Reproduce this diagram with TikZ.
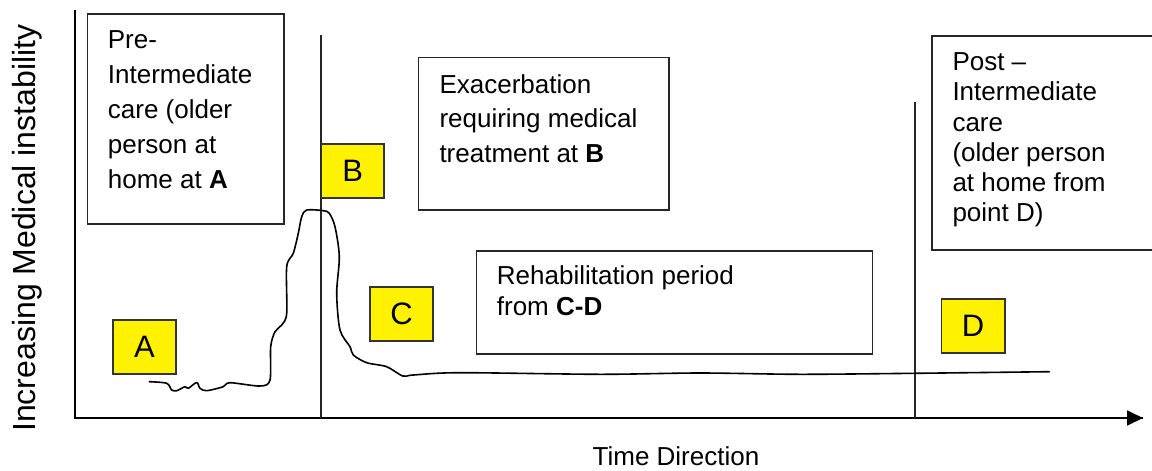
\documentclass[tikz,border=0pt]{standalone}
\usepackage{fontspec}
\setmainfont{Liberation Sans}
\usetikzlibrary{arrows.meta}
\begin{document}
\begin{tikzpicture}[x=1pt,y=-1pt,
  box/.style={draw=black!85, line width=1.5pt, inner sep=0pt, anchor=north west},
  ybox/.style={draw=black!80, fill=yellow, line width=1.5pt, anchor=north west, inner sep=0pt,
    minimum width=63pt, minimum height=54pt, font=\fontsize{31}{34}\selectfont},
  txt/.style={anchor=base west, inner sep=0pt},
  axis/.style={line width=1.8pt, black},
  vline/.style={line width=1.6pt, black!85},
  curve/.style={line width=1.6pt, black, line join=round, line cap=round}]
\useasboundingbox (0,0) rectangle (1152,471);
% axes
\coordinate (O) at (75,418);
\coordinate (Ytop) at (75,10);
\coordinate (Xend) at (1143,418);
\draw[axis] (Ytop) -- (O) -- (Xend);
\draw[axis, -{Triangle[length=16pt,width=15pt]}] (O) -- (Xend);
% vertical markers
\coordinate (Btop) at (320.7,35);
\coordinate (Bbot) at (320.7,418);
\coordinate (Dtop) at (915,102);
\coordinate (Dbot) at (915,418);
\draw[vline] (Btop) -- (Bbot);
\draw[vline] (Dtop) -- (Dbot);
% text boxes
\node[box, minimum width=196.6pt, minimum height=210pt] (prebox) at (86.7,13.3) {};
\node[txt, font=\fontsize{26}{35}\selectfont] (pretxt) at (107.7,48.3)
  {\begin{tabular}[t]{@{}l@{}}Pre-\\Intermediate\\care (older\\person at\\home at \textbf{A}\end{tabular}};
\node[box, minimum width=250.3pt, minimum height=152.3pt] (exbox) at (417.7,56.7) {};
\node[txt, font=\fontsize{26}{34.5}\selectfont] (extxt) at (439.3,93.3)
  {\begin{tabular}[t]{@{}l@{}}Exacerbation\\requiring medical\\treatment at \textbf{B}\end{tabular}};
\node[box, minimum width=396pt, minimum height=103.3pt] (rehabbox) at (475.7,250) {};
\node[txt, font=\fontsize{26}{31.5}\selectfont] (rehabtxt) at (496.7,284.3)
  {\begin{tabular}[t]{@{}l@{}}Rehabilitation period\\from \textbf{C-D}\end{tabular}};
\node[box, minimum width=240pt, minimum height=214pt] (postbox) at (931,35) {};
\node[txt, font=\fontsize{26}{30.2}\selectfont] (posttxt) at (952.3,70.7)
  {\begin{tabular}[t]{@{}l@{}}Post –\\Intermediate\\care\\(older person\\at home from\\point D)\end{tabular}};
% yellow markers
\node[ybox, minimum width=62.7pt, minimum height=54.3pt] (A) at (112.3,319) {A};
\node[ybox, minimum width=62.6pt] (B) at (320.7,143.3) {B};
\node[ybox] (C) at (369.3,286) {C};
\node[ybox, minimum width=63.3pt] (D) at (940.7,298.3) {D};
% axis labels
\node[anchor=base west, inner sep=0pt, rotate=90, font=\fontsize{32}{36}\selectfont] (ylab) at (35,432) {Increasing Medical instability};
\node[anchor=base, inner sep=0pt, font=\fontsize{26}{30}\selectfont] (xlab) at (676,465) {Time Direction};
% instability curve
\draw[curve] plot[smooth, tension=0.5] coordinates {
  (149.3,381.7) (166.7,383.3) (171.7,390) (176.7,390.7) (185,386.7) (188.3,388.3)
  (196.7,382.5) (200,388.3) (206.7,390.7) (223.3,386.7) (230,382.7) (260,386)
  (270,380) (270.7,346.7) (275,331.7) (281.7,325) (286.7,313.3) (286.7,266.7)
  (293.3,253.3) (298.3,233.3) (301.7,216.7) (306.7,210) (323.3,210.7) (329.3,213.3)
  (335,226.7) (339.3,256.7) (336.7,293.3) (340,330) (350,346.7) (353.3,355)
  (366.7,362.7) (386.7,366.7) (402.7,376) (413.3,375) (460,372.7) (600,374.3)
  (700,373) (800,374.3) (915,373.3) (1049.3,371.7)};
\end{tikzpicture}
\end{document}
